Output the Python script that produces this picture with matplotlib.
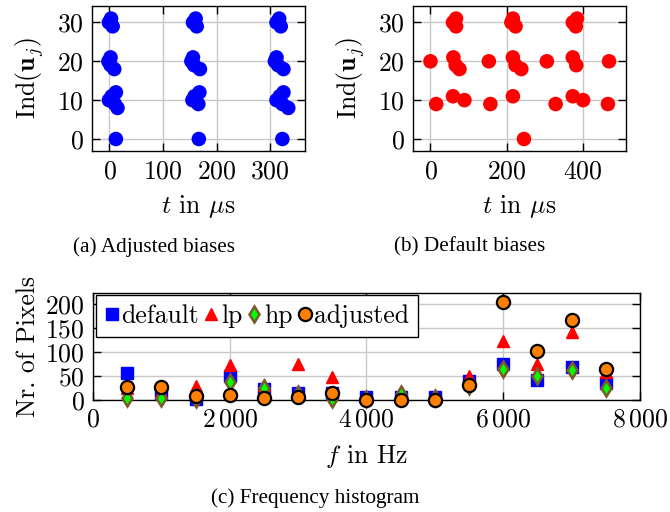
import matplotlib
matplotlib.use("Agg")
import matplotlib.pyplot as plt

plt.rcParams['font.family'] = ['cmr10', 'DejaVu Serif']
plt.rcParams['mathtext.fontset'] = 'cm'
plt.rcParams['axes.formatter.use_mathtext'] = True
plt.rcParams['axes.unicode_minus'] = False

# (a) adjusted biases: spike times (us) and neuron index
adj_t = [3, -1, 6, 2, -2, 2, 9, 12, 4, -1, 10, 15, 12,
         161, 156, 163, 156, 153, 158, 169, 168, 159, 155, 166, 167,
         317, 312, 320, 312, 309, 315, 325, 325, 318, 312, 323, 334, 323]
adj_idx = [31, 30, 29, 21, 20, 19, 18, 12, 11, 10, 9, 8, 0,
           31, 30, 29, 21, 20, 19, 18, 12, 11, 10, 9, 0,
           31, 30, 29, 21, 20, 19, 18, 12, 11, 10, 9, 8, 0]

# (b) default biases
def_t = [0, 15, 60, 59, 67, 67, 66, 76, 59, 89, 153, 157,
         216, 212, 223, 216, 223, 238, 216, 245, 305, 328,
         373, 384, 381, 373, 382, 373, 400, 465, 468]
def_idx = [20, 9, 21, 30, 31, 29, 19, 18, 11, 10, 20, 9,
           31, 30, 29, 21, 19, 18, 11, 0, 20, 9,
           30, 31, 29, 21, 19, 11, 10, 9, 20]

# (c) frequency histogram
freq = [500, 1000, 1500, 2000, 2500, 3000, 3500, 4000, 4500, 5000, 5500, 6000, 6500, 7000, 7500]
n_default = [56, 15, 1, 49, 22, 15, 14, 6, 6, 6, 39, 76, 42, 69, 36]
n_lp = [24, 17, 28, 72, 32, 76, 48, 6, 13, 9, 49, 123, 76, 142, 58]
n_hp = [3, 3, 2, 37, 24, 13, 2, 1, 12, 4, 30, 65, 49, 63, 25]
n_adjusted = [26, 26, 9, 10, 3, 5, 14, 0, 0, 0, 32, 205, 102, 168, 65]

grid_col = '#c8c8c8'
fs = 18.5
t_label = r'$t$ in $\mu$s'

fig = plt.figure(figsize=(6.7, 5.12), dpi=100)


def style(ax):
    ax.grid(True, color=grid_col, linewidth=1)
    ax.set_axisbelow(True)
    ax.tick_params(direction='in', length=6, width=1, top=True, right=True,
                   labelsize=fs, pad=6)
    for s in ax.spines.values():
        s.set_linewidth(1)


ax1 = fig.add_axes([0.137, 0.705, 0.318, 0.283])
ax1.scatter(adj_t, adj_idx, s=110, color='#0000ff', edgecolors='none', zorder=3)
ax1.set_xlim(-33, 365)
ax1.set_ylim(-3.1, 34.2)
ax1.set_xticks([0, 100, 200, 300], ['$0$', '$100$', '$200$', '$300$'])
ax1.set_yticks([0, 10, 20, 30], ['$0$', '$10$', '$20$', '$30$'])
style(ax1)
ax1.set_xlabel(t_label, fontsize=fs, labelpad=7)
ax1.set_ylabel(r'$\mathrm{Ind}(\mathbf{u}_j)$', fontsize=fs, labelpad=8)

ax2 = fig.add_axes([0.616, 0.705, 0.319, 0.283])
ax2.scatter(def_t, def_idx, s=110, color='#ff0000', edgecolors='none', zorder=3)
ax2.set_xlim(-46.5, 513.6)
ax2.set_ylim(-3.1, 34.2)
ax2.set_xticks([0, 200, 400], ['$0$', '$200$', '$400$'])
ax2.set_yticks([0, 10, 20, 30], ['$0$', '$10$', '$20$', '$30$'])
style(ax2)
ax2.set_xlabel(t_label, fontsize=fs, labelpad=7)
ax2.set_ylabel(r'$\mathrm{Ind}(\mathbf{u}_j)$', fontsize=fs, labelpad=8)

ax3 = fig.add_axes([0.139, 0.219, 0.816, 0.209])
ax3.plot(freq, n_default, 's', color='#0000ff', markersize=8.5, mec='#0000ff',
         label='default', clip_on=False, zorder=3)
ax3.plot(freq, n_lp, '^', color='#ff0000', markersize=8.5, mec='#ff0000',
         label='lp', clip_on=False, zorder=4)
ax3.plot(freq, n_hp, 'd', color='#00ff00', markersize=8, mec='#7a5a2a', mew=1.8,
         label='hp', clip_on=False, zorder=5)
ax3.plot(freq, n_adjusted, 'o', color='#ff8000', markersize=9.5, mec='black', mew=1.6,
         label='adjusted', clip_on=False, zorder=6)
ax3.set_xlim(0, 8000)
ax3.set_ylim(0, 224)
ax3.set_xticks([0, 2000, 4000, 6000, 8000],
               ['$0$', r'$2\,000$', r'$4\,000$', r'$6\,000$', r'$8\,000$'])
ax3.set_yticks([0, 50, 100, 150, 200], ['$0$', '$50$', '$100$', '$150$', '$200$'])
style(ax3)
ax3.set_xlabel('$f$ in Hz', fontsize=fs, labelpad=8)
ax3.set_ylabel('Nr. of Pixels', fontsize=fs, labelpad=4)
leg = ax3.legend(loc='upper left', ncol=4, fontsize=fs, frameon=True, fancybox=False,
                 edgecolor='black', framealpha=1, handlelength=0.55, handletextpad=0.1,
                 columnspacing=0.2, borderpad=0.35, borderaxespad=0.1)
leg.get_frame().set_linewidth(1)
leg.set_zorder(10)

cap = dict(fontsize=15.3, family='Liberation Serif', ha='center', va='center')
fig.text(154 / 670, 1 - 247 / 512, '(a) Adjusted biases', **cap)
fig.text(470 / 670, 1 - 247 / 512, '(b) Default biases', **cap)
fig.text(315 / 670, 1 - 498 / 512, '(c) Frequency histogram', **cap)

fig.savefig('out.png', dpi=100)
